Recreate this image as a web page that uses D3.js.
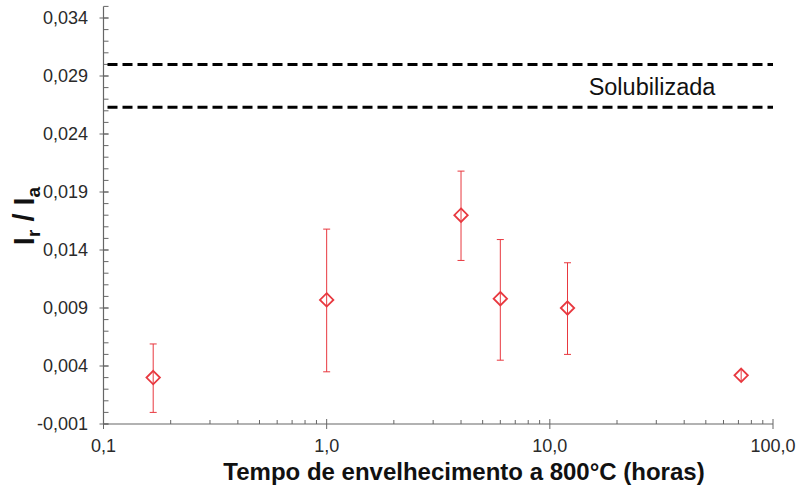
<!DOCTYPE html>
<meta charset="utf-8">
<style>
  body { margin: 0; background: #fff; }
  text { font-family: "Liberation Sans", Arial, sans-serif; }
</style>
<script src="https://d3js.org/d3.v7.min.js"></script>
<div id="my_dataviz"></div>
<script>
// aging time (hours) and Ir/Ia ratio with error limits
var horas = [0.167, 1, 4, 6, 12, 72];
var razao = [0.0030, 0.0097, 0.0170, 0.0098, 0.0090, 0.0032];
var erroSup = [0.0059, 0.0158, 0.0208, 0.0149, 0.0129, null];
var erroInf = [0.0000, 0.0035, 0.0131, 0.0045, 0.0050, null];

// solubilized band
var solubilizada = [0.0263, 0.0300];

var yTicks = [-0.001, 0.004, 0.009, 0.014, 0.019, 0.024, 0.029, 0.034];
var xTicks = [0.1, 1, 10, 100];

var width = 799, height = 490;
var red = "#e8383f";

var svg = d3.select("#my_dataviz").append("svg")
  .attr("width", width).attr("height", height);

var x = d3.scaleLog().domain([0.1, 100]).range([103.5, 773]);
var y = d3.scaleLinear().domain([-0.001, 0.035]).range([424, 6.4]);

var fmtY = function(d){ return d3.format(".3f")(d).replace(".", ",").replace("−", "-"); };
var fmtX = function(d){ return d3.format(".1f")(d).replace(".", ","); };

var axisColor = "#666";

// y axis: line, minor ticks (inside) and major ticks (crossing)
var gy = svg.append("g");
gy.append("line")
  .attr("x1", x(0.1)).attr("x2", x(0.1))
  .attr("y1", y(0.035)).attr("y2", y(-0.001))
  .attr("stroke", axisColor).attr("stroke-width", 1.2);
var yMinor = d3.range(-1, 36).map(function(i){ return i / 1000; });
gy.selectAll(".ymin").data(yMinor).enter().append("line")
  .attr("x1", x(0.1)).attr("x2", x(0.1) + 5)
  .attr("y1", function(d){ return y(d); }).attr("y2", function(d){ return y(d); })
  .attr("stroke", axisColor);
gy.selectAll(".ymaj").data(yTicks).enter().append("line")
  .attr("x1", x(0.1) - 4).attr("x2", x(0.1) + 5)
  .attr("y1", function(d){ return y(d); }).attr("y2", function(d){ return y(d); })
  .attr("stroke", axisColor);
gy.selectAll(".ylab").data(yTicks).enter().append("text")
  .attr("x", 88).attr("y", function(d){ return y(d); })
  .attr("dy", "0.35em")
  .attr("text-anchor", "end")
  .attr("font-size", 18).attr("fill", "#2a2a2a")
  .text(fmtY);

// x axis
var gx = svg.append("g");
gx.append("line")
  .attr("x1", x(0.1)).attr("x2", x(100))
  .attr("y1", y(-0.001)).attr("y2", y(-0.001))
  .attr("stroke", axisColor).attr("stroke-width", 1.2);
var xMinor = [];
[0.1, 1, 10].forEach(function(dec){
  for (var k = 2; k <= 9; k++) xMinor.push(dec * k);
});
gx.selectAll(".xmin").data(xMinor).enter().append("line")
  .attr("x1", function(d){ return x(d); }).attr("x2", function(d){ return x(d); })
  .attr("y1", y(-0.001) - 4).attr("y2", y(-0.001))
  .attr("stroke", axisColor);
gx.selectAll(".xmaj").data(xTicks).enter().append("line")
  .attr("x1", function(d){ return x(d); }).attr("x2", function(d){ return x(d); })
  .attr("y1", y(-0.001) - 5).attr("y2", y(-0.001) + 5)
  .attr("stroke", axisColor);
gx.selectAll(".xlab").data(xTicks).enter().append("text")
  .attr("x", function(d){ return x(d); }).attr("y", 452)
  .attr("text-anchor", "middle")
  .attr("font-size", 18).attr("fill", "#2a2a2a")
  .text(fmtX);

// axis titles
svg.append("text")
  .attr("x", 464).attr("y", 480)
  .attr("text-anchor", "middle")
  .attr("font-size", 24).attr("font-weight", "bold").attr("fill", "#111")
  .text("Tempo de envelhecimento a 800°C (horas)");

var ylab = svg.append("text")
  .attr("transform", "translate(34,216) rotate(-90)")
  .attr("text-anchor", "middle")
  .attr("font-size", 29).attr("font-weight", "bold").attr("fill", "#111");
ylab.append("tspan").text("I");
ylab.append("tspan").attr("font-size", 19).attr("dy", 6).text("r");
ylab.append("tspan").attr("dy", -6).text(" / I");
ylab.append("tspan").attr("font-size", 19).attr("dy", 6).text("a");

// solubilized dashed lines
svg.selectAll(".sol").data(solubilizada).enter().append("line")
  .attr("x1", x(0.1) + 4).attr("x2", x(100))
  .attr("y1", function(d){ return y(d); }).attr("y2", function(d){ return y(d); })
  .attr("stroke", "#000").attr("stroke-width", 3)
  .attr("stroke-dasharray", "10,5");
svg.append("text")
  .attr("x", 652).attr("y", 95)
  .attr("text-anchor", "middle")
  .attr("font-size", 23.5).attr("fill", "#111")
  .text("Solubilizada");

// data points with error bars
var pts = horas.map(function(h, i){
  return { h: h, v: razao[i], hi: erroSup[i], lo: erroInf[i] };
});
var bars = pts.filter(function(d){ return d.hi !== null; });
svg.selectAll(".eb").data(bars).enter().append("line")
  .attr("x1", function(d){ return x(d.h); }).attr("x2", function(d){ return x(d.h); })
  .attr("y1", function(d){ return y(d.hi); }).attr("y2", function(d){ return y(d.lo); })
  .attr("stroke", red).attr("stroke-width", 1);
["hi", "lo"].forEach(function(k){
  svg.selectAll(".cap" + k).data(bars).enter().append("line")
    .attr("x1", function(d){ return x(d.h) - 3.5; }).attr("x2", function(d){ return x(d.h) + 3.5; })
    .attr("y1", function(d){ return y(d[k]); }).attr("y2", function(d){ return y(d[k]); })
    .attr("stroke", red).attr("stroke-width", 1);
});
svg.selectAll(".pt").data(pts).enter().append("path")
  .attr("d", d3.symbol().type(d3.symbolDiamond2).size(115))
  .attr("transform", function(d){ return "translate(" + x(d.h) + "," + y(d.v) + ")"; })
  .attr("fill", "none").attr("stroke", red).attr("stroke-width", 1.8);
// small vertical tick through the lone point, as in the reference
svg.selectAll(".ptline").data(pts.filter(function(d){ return d.hi === null; })).enter().append("line")
  .attr("x1", function(d){ return x(d.h); }).attr("x2", function(d){ return x(d.h); })
  .attr("y1", function(d){ return y(d.v) - 6; }).attr("y2", function(d){ return y(d.v) + 6; })
  .attr("stroke", red).attr("stroke-width", 1);
</script>
